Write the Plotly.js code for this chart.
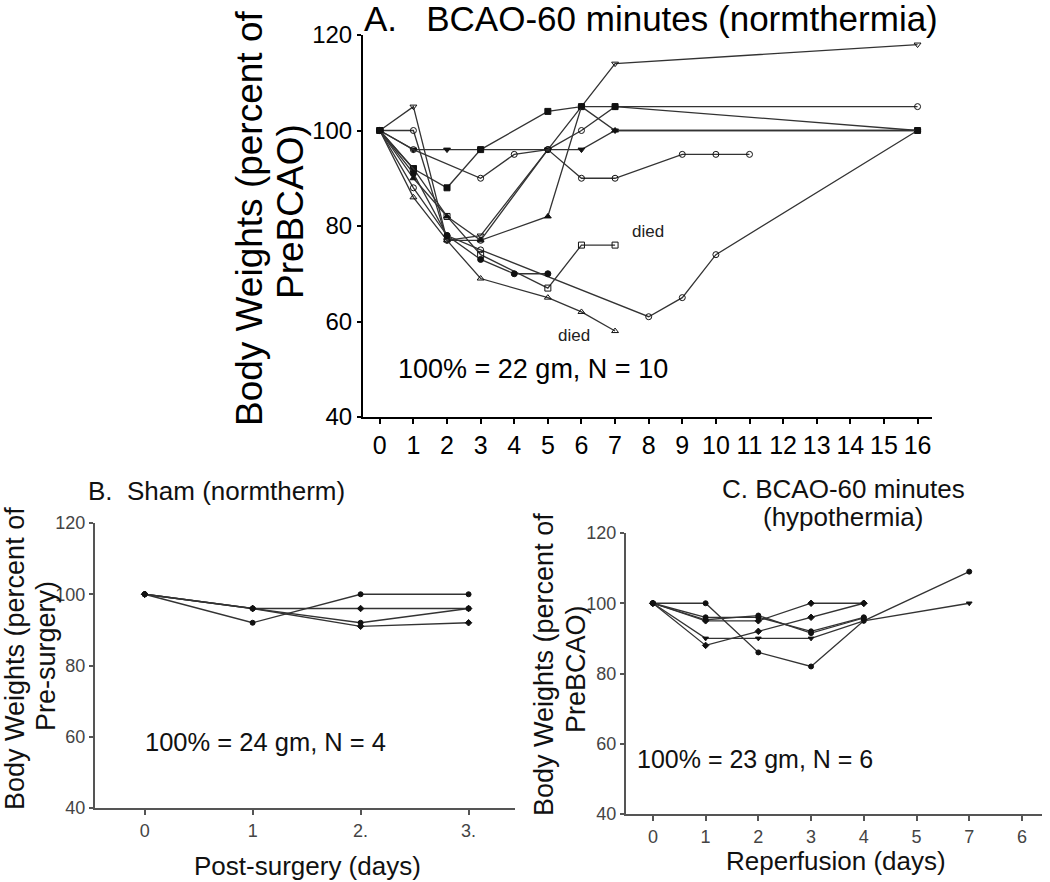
<!DOCTYPE html>
<html>
<head>
<meta charset="utf-8">
<script src="https://cdn.plot.ly/plotly-3.0.1.min.js"></script>
<style>html,body{margin:0;padding:0;background:#fff;}#chart{width:1050px;height:882px;}</style>
</head>
<body>
<div id="chart"></div>
<script>
// ---------- Panel A: BCAO-60 minutes (normthermia) ----------
const aTickDays = [0,1,2,3,4,5,6,7,8,9,10,11,12,13,14,15,16];
const aS1x = [0,1,2,3,5,6,7,16];      const aS1y = [100,96,96,96,96,96,100,100];
const aS2x = [0,1,2,3,5,6,7,16];      const aS2y = [100,105,77,78,96,105,114,118];
const aS3x = [0,1,2,3,5,6,7,16];      const aS3y = [100,100,77,77,96,100,105,105];
const aS4x = [0,1,3,4,5,6,7,9,10,11]; const aS4y = [100,96,90,95,96,90,90,95,95,95];
const aS5x = [0,1,2,3,5,6,7,16];      const aS5y = [100,92,88,96,104,105,105,100];
const aS6x = [0,1,2,3,5,6,7];         const aS6y = [100,86,77,69,65,62,58];
const aS7x = [0,1,2,3,8,9,10,16];     const aS7y = [100,88,78,75,61,65,74,100];
const aS8x = [0,1,2,3,5,6,7];         const aS8y = [100,92,82,74,67,76,76];
const aS9x = [0,1,2,3,5,6,7,16];      const aS9y = [100,90,82,77,82,105,100,100];
const aS10x = [0,1,2,3,4,5];          const aS10y = [100,91,78,73,70,70];

// ---------- Panel B: Sham (normtherm) ----------
const bTickVals = [0,1,2,3];
const bTickText = ['0','1','2.','3.'];
const bS1y = [100,92,100,100];
const bS2y = [100,96,96,96];
const bS3y = [100,96,92,96];
const bS4y = [100,96,91,92];

// ---------- Panel C: BCAO-60 minutes (hypothermia) ----------
// x = tick position; position 6 is labelled "7"
const cTickVals = [0,1,2,3,4,5,6,7];
const cTickText = ['0','1','2','3','4','5','7','6'];
const cS1x = [0,1,2,3,4,6]; const cS1y = [100,100,86,82,95,109];
const cS2x = [0,1,2,3,4];   const cS2y = [100,88,92,96,100];
const cS3x = [0,1,2,3,4];   const cS3y = [100,96,96,92,96];
const cS4x = [0,1,2,3,4];   const cS4y = [100,95,95,100,100];
const cS5x = [0,1,2,3,4,6]; const cS5y = [100,90,90,90,95,100];
const cS6x = [0,1,2,3,4];   const cS6y = [100,95.3,96.5,91.5,95.8];

const FONT = 'Liberation Sans, Arial, sans-serif';
const lineCol = '#333';

function tr(x, y, sym, xa, ya, size) {
  return {
    x: x, y: y, xaxis: xa, yaxis: ya, type: 'scatter', mode: 'lines+markers',
    line: {color: lineCol, width: 1.3},
    marker: {symbol: sym, size: size || 6, color: '#111', line: {color: '#111', width: 1}},
    showlegend: false, hoverinfo: 'x+y'
  };
}

const traces = [
  tr(aS1x, aS1y, 'triangle-down', 'x', 'y'),
  tr(aS2x, aS2y, 'triangle-down-open', 'x', 'y'),
  tr(aS3x, aS3y, 'circle-open', 'x', 'y'),
  tr(aS4x, aS4y, 'circle-open', 'x', 'y'),
  tr(aS5x, aS5y, 'square', 'x', 'y'),
  tr(aS6x, aS6y, 'triangle-up-open', 'x', 'y'),
  tr(aS7x, aS7y, 'circle-open', 'x', 'y'),
  tr(aS8x, aS8y, 'square-open', 'x', 'y'),
  tr(aS9x, aS9y, 'triangle-up', 'x', 'y'),
  tr(aS10x, aS10y, 'circle', 'x', 'y'),
  tr(bTickVals, bS1y, 'circle', 'x2', 'y2', 5),
  tr(bTickVals, bS2y, 'diamond', 'x2', 'y2', 5),
  tr(bTickVals, bS3y, 'circle', 'x2', 'y2', 5),
  tr(bTickVals, bS4y, 'diamond', 'x2', 'y2', 5),
  tr(cS1x, cS1y, 'circle', 'x3', 'y3', 5),
  tr(cS2x, cS2y, 'diamond', 'x3', 'y3', 5),
  tr(cS3x, cS3y, 'circle', 'x3', 'y3', 5),
  tr(cS4x, cS4y, 'diamond', 'x3', 'y3', 5),
  tr(cS5x, cS5y, 'triangle-down', 'x3', 'y3', 5),
  tr(cS6x, cS6y, 'circle', 'x3', 'y3', 5)
];

function axBase(extra) {
  return Object.assign({
    showgrid: false, zeroline: false, showline: true, linewidth: 2,
    ticks: 'outside', ticklen: 6, tickwidth: 2, fixedrange: true
  }, extra);
}

function ann(text, x, y, size, color, extra) {
  return Object.assign({text: text, xref: 'paper', yref: 'paper', x: x/1050, y: 1 - y/882,
    xanchor: 'center', yanchor: 'middle', showarrow: false, font: {size: size, color: color}}, extra || {});
}

const grayTick = '#444';
const layout = {
  width: 1050, height: 882,
  margin: {l: 0, r: 0, t: 0, b: 0},
  paper_bgcolor: '#fff', plot_bgcolor: '#fff',
  font: {family: FONT, color: '#000'},
  xaxis: axBase({domain: [363/1050, 932/1050], range: [-0.5, 16.43], anchor: 'y',
    tickvals: aTickDays, linecolor: '#000', tickcolor: '#000', ticklen: 5, tickfont: {size: 25, color: '#000'}}),
  yaxis: axBase({domain: [1-417/882, 1-35/882], range: [40, 120], anchor: 'x',
    tickvals: [40,60,80,100,120], linecolor: '#000', tickcolor: '#000', ticklen: 4, tickfont: {size: 24, color: '#000'}}),
  xaxis2: axBase({domain: [95/1050, 515/1050], range: [-0.46, 3.43], anchor: 'y2',
    tickvals: bTickVals, ticktext: bTickText, linecolor: '#555', tickcolor: '#555', ticklen: 5, tickfont: {size: 18, color: grayTick}}),
  yaxis2: axBase({domain: [1-808/882, 1-523/882], range: [40, 120], anchor: 'x2',
    tickvals: [40,60,80,100,120], linecolor: '#555', tickcolor: '#555', ticklen: 4, tickfont: {size: 18, color: grayTick}}),
  xaxis3: axBase({domain: [626/1050, 1042/1050], range: [-0.51, 7.38], anchor: 'y3',
    tickvals: cTickVals, ticktext: cTickText, linecolor: '#555', tickcolor: '#555', ticklen: 5, tickfont: {size: 18, color: grayTick}}),
  yaxis3: axBase({domain: [1-814/882, 1-533/882], range: [40, 120], anchor: 'x3',
    tickvals: [40,60,80,100,120], linecolor: '#555', tickcolor: '#555', ticklen: 4, tickfont: {size: 18, color: grayTick}}),
  annotations: [
    // Panel A
    ann('A.&nbsp;&nbsp;&nbsp;BCAO-60 minutes (normthermia)', 651, 18, 35, '#000'),
    ann('Body Weights (percent of', 250, 219, 37, '#000', {textangle: -90}),
    ann('PreBCAO)', 291, 212, 37, '#000', {textangle: -90}),
    {text: '100% = 22 gm, N = 10', xref: 'x', yref: 'y', x: 4.55, y: 50,
     xanchor: 'center', yanchor: 'middle', showarrow: false, font: {size: 27, color: '#000'}},
    {text: 'died', xref: 'x', yref: 'y', x: 7.98, y: 78.8, xanchor: 'center', yanchor: 'middle',
     showarrow: false, font: {size: 17, color: '#222'}},
    {text: 'died', xref: 'x', yref: 'y', x: 5.77, y: 57.0, xanchor: 'center', yanchor: 'middle',
     showarrow: false, font: {size: 17, color: '#222'}},
    // Panel B
    ann('B.&nbsp;&nbsp;Sham (normtherm)', 86, 491, 26, '#111', {xanchor: 'left'}),
    ann('Body Weights (percent of', 15, 659, 27, '#111', {textangle: -90}),
    ann('Pre-surgery)', 46, 656, 27, '#111', {textangle: -90}),
    {text: '100% = 24 gm, N = 4', xref: 'x2', yref: 'y2', x: 1.12, y: 58.5,
     xanchor: 'center', yanchor: 'middle', showarrow: false, font: {size: 25.5, color: '#111'}},
    ann('Post-surgery (days)', 307, 866, 26, '#111'),
    // Panel C
    ann('C. BCAO-60 minutes', 843, 489, 26, '#111'),
    ann('(hypothermia)', 843, 517, 26, '#111'),
    ann('Body Weights (percent of', 544, 665, 27, '#111', {textangle: -90}),
    ann('PreBCAO)', 576, 669, 27, '#111', {textangle: -90}),
    {text: '100% = 23 gm, N = 6', xref: 'x3', yref: 'y3', x: 1.93, y: 55.6,
     xanchor: 'center', yanchor: 'middle', showarrow: false, font: {size: 25, color: '#111'}},
    ann('Reperfusion (days)', 836, 861, 26, '#111')
  ]
};

Plotly.newPlot('chart', traces, layout, {staticPlot: true, displayModeBar: false});
</script>
</body>
</html>
